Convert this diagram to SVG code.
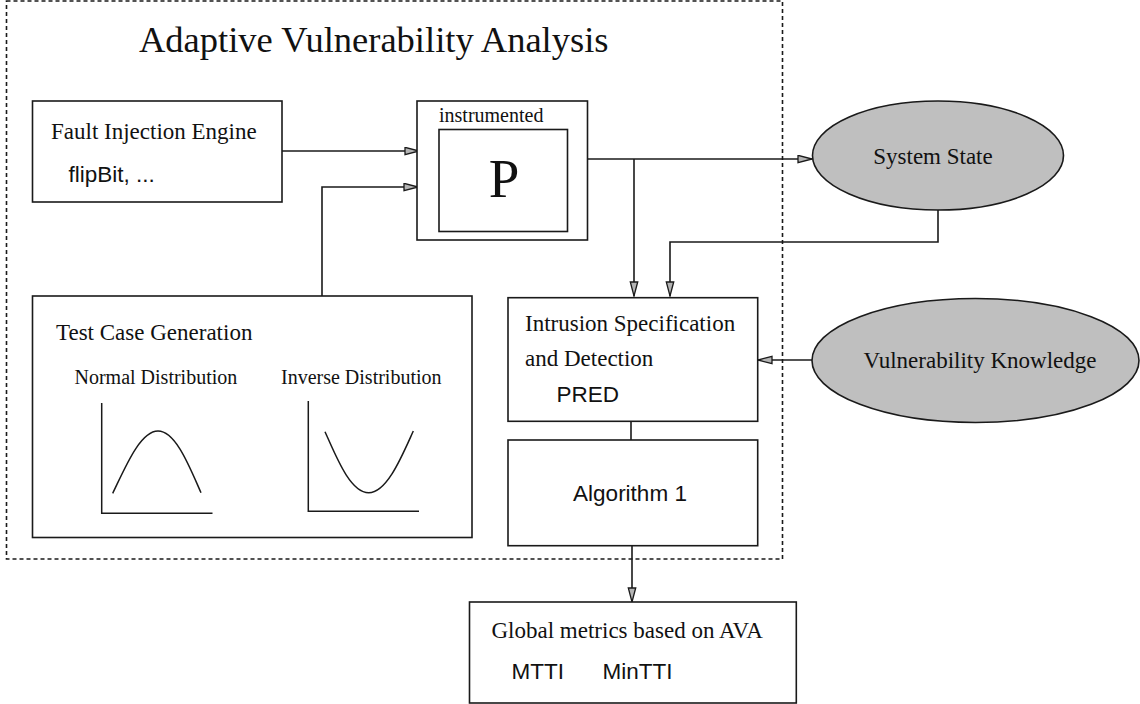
<svg xmlns="http://www.w3.org/2000/svg" width="1140" height="704" viewBox="0 0 1140 704">
  <style>
    .box { fill: #ffffff; stroke: #1a1a1a; stroke-width: 1.6; }
    .ell { fill: #bfbfbf; stroke: #1a1a1a; stroke-width: 1.6; }
    .wire { fill: none; stroke: #1a1a1a; stroke-width: 1.6; }
    .arrow { fill: none; stroke: #1a1a1a; stroke-width: 1.6; marker-end: url(#head); }
    .serif { font-family: "Liberation Serif", "Times New Roman", serif; fill: #111111; }
    .sans { font-family: "Liberation Sans", Arial, sans-serif; fill: #111111; }
    .curve { fill: none; stroke: #1a1a1a; stroke-width: 1.5; }
  </style>
  <defs>
    <marker id="head" markerUnits="userSpaceOnUse" markerWidth="16" markerHeight="10" refX="15" refY="4.5" orient="auto" viewBox="0 0 16 10">
      <path d="M1,0.8 L15,4.5 L1,8.2 Z" fill="#b4b4b4" stroke="#1a1a1a" stroke-width="1.3"/>
    </marker>
  </defs>
  <rect width="1140" height="704" fill="#ffffff"/>

  <!-- system boundary -->
  <g id="boundary">
    <rect x="6.5" y="1" width="776" height="558" fill="none" stroke="#1a1a1a" stroke-width="1.6" stroke-dasharray="4 3"/>
    <text class="serif" x="139" y="52" font-size="36.5">Adaptive Vulnerability Analysis</text>
  </g>

  <!-- connectors -->
  <g id="connectors">
    <path class="arrow" d="M282,151 H419"/>
    <path class="arrow" d="M322,296 V187 H418"/>
    <path class="arrow" d="M588,159 H812"/>
    <path class="arrow" d="M634,159 V296"/>
    <path class="arrow" d="M938,210 V242 H670 V296"/>
    <path class="arrow" d="M812,360 H758"/>
    <path class="wire" d="M631,421 V440"/>
    <path class="arrow" d="M632,546 V602"/>
  </g>

  <g id="fault-injection">
    <rect class="box" x="32.5" y="101" width="249.5" height="101"/>
    <text class="serif" x="51" y="138.5" font-size="23">Fault Injection Engine</text>
    <text class="sans" x="68.5" y="182" font-size="22.5">flipBit, ...</text>
  </g>

  <g id="instrumented-p">
    <rect class="box" x="417" y="101" width="170.5" height="139"/>
    <text class="serif" x="439" y="121.5" font-size="20">instrumented</text>
    <rect class="box" x="439" y="129.5" width="128.5" height="102"/>
    <text class="serif" x="504" y="196.5" font-size="55" text-anchor="middle">P</text>
  </g>

  <g id="system-state">
    <ellipse class="ell" cx="938" cy="155.5" rx="125.5" ry="54.5"/>
    <text class="serif" x="933" y="163.5" font-size="23" text-anchor="middle">System State</text>
  </g>

  <g id="test-case-generation">
    <rect class="box" x="32.5" y="296" width="439.5" height="241.5"/>
    <text class="serif" x="56" y="339.5" font-size="23">Test Case Generation</text>
    <text class="serif" x="74.5" y="384" font-size="20">Normal Distribution</text>
    <text class="serif" x="281" y="384" font-size="20">Inverse Distribution</text>
    <path class="curve" d="M101.7,403 V513.3 H212.5"/>
    <path class="curve" d="M112.7,493.3 C125,468 140,431 158,431 C176,431 190,468 201,492.7"/>
    <path class="curve" d="M308.3,401 V511.3 H419"/>
    <path class="curve" d="M325,431.7 C336,456 350,492.7 368.7,492.7 C387,492.7 402,456 413.3,431"/>
  </g>

  <g id="intrusion-detection">
    <rect class="box" x="508" y="297.7" width="249.7" height="123.6"/>
    <text class="serif" x="525" y="331" font-size="23">Intrusion Specification</text>
    <text class="serif" x="525" y="366" font-size="23">and Detection</text>
    <text class="sans" x="556.5" y="401.5" font-size="22.5">PRED</text>
  </g>

  <g id="vulnerability-knowledge">
    <ellipse class="ell" cx="975.5" cy="360.5" rx="163.5" ry="62"/>
    <text class="serif" x="980" y="367.5" font-size="23" text-anchor="middle">Vulnerability Knowledge</text>
  </g>

  <g id="algorithm-1">
    <rect class="box" x="508" y="440" width="249.7" height="105.7"/>
    <text class="sans" x="630" y="501" font-size="22.5" text-anchor="middle">Algorithm 1</text>
  </g>

  <g id="global-metrics">
    <rect class="box" x="469.5" y="602" width="326.8" height="101"/>
    <text class="serif" x="491.5" y="637.5" font-size="23">Global metrics based on AVA</text>
    <text class="sans" x="511.5" y="678.5" font-size="22.5">MTTI</text>
    <text class="sans" x="602.5" y="678.5" font-size="22.5">MinTTI</text>
  </g>
</svg>
